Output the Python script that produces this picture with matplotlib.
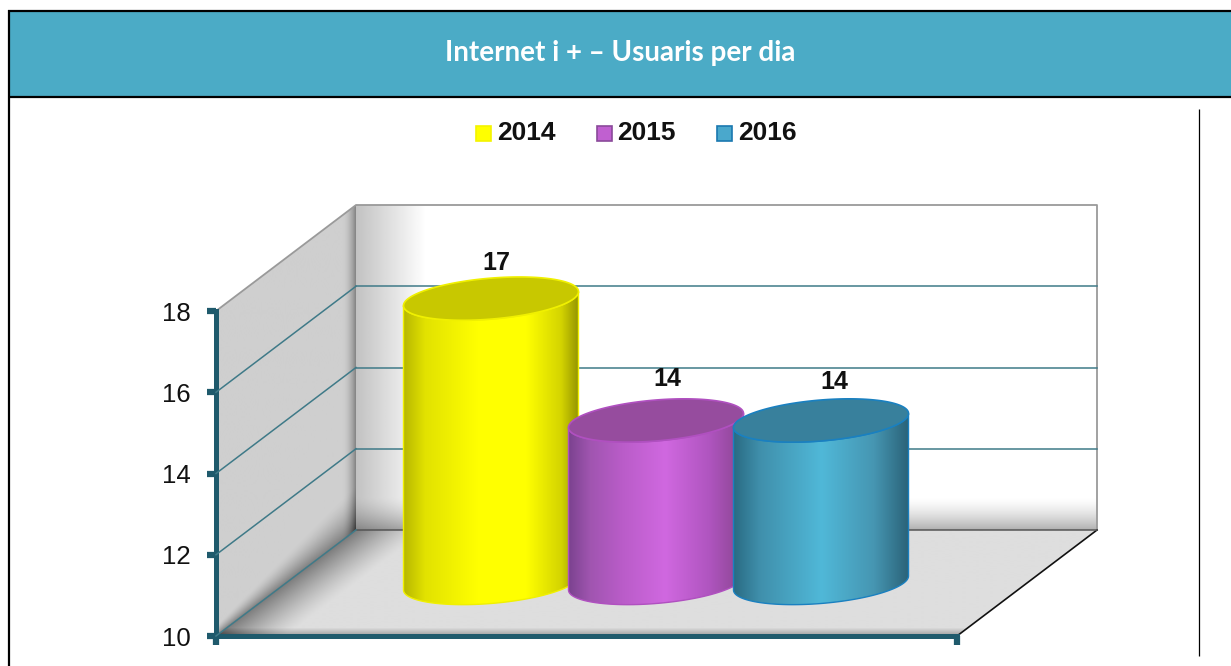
import numpy as np
import matplotlib
matplotlib.use('Agg')
import matplotlib.pyplot as plt
from matplotlib.colors import LinearSegmentedColormap
from matplotlib.patches import Polygon, Rectangle

#Data ----------------------------------------------------------------
title = 'Internet i + \u2013 Usuaris per dia'
years = ['2014', '2015', '2016']
usuaris = [17, 14, 14]
y_ticks = [10, 12, 14, 16, 18]
#----------------------------------------------------------------------

#Styles
body_stops = [
    [(0, '#b8b800'), (.12, '#e2e200'), (.42, '#ffff00'), (.7, '#ffff00'), (.9, '#d4d400'), (1, '#949400')],
    [(0, '#7c4390'), (.12, '#a055b0'), (.3, '#b95cc8'), (.55, '#d068e0'), (.8, '#b055c0'), (1, '#8a4590')],
    [(0, '#2a6c84'), (.15, '#4090ac'), (.5, '#50b8d8'), (.8, '#4696b2'), (1, '#2a6278')],
]
top_colors = ['#c8c800', '#964c9e', '#38809c']
edge_colors = ['#f0f000', '#b050c0', '#1a80c0']
swatch_colors = ['#ffff00', '#c060d0', '#4aa8cc']
swatch_edges = ['#f4f400', '#8a4a9a', '#1a78b0']
TEAL = '#1f5a6c'
GRID = '#3f7a88'

#Geometry in pixels of the picture
W, H = 1231, 666
X0, X1 = 216, 957          #front edge of the floor
Y10, Y18 = 636, 311        #front axis, value 10 and 18
DX, DY = 140, 106          #depth of the box
SCALE = (Y10 - Y18) / 8.0  #pixels per unit
DEPTH = DY / SCALE
HALF_W, TILT, SQUASH = 87.5, 7.0, 20.5
FIRST_X, STEP_X = 491, 165

fig = plt.figure(figsize=(W / 100, H / 100), dpi=100)

#Frame axes in pixels
ax = fig.add_axes([0, 0, 1, 1])
ax.set_xlim(0, W)
ax.set_ylim(H, 0)
ax.axis('off')


def shaded(array, x0, x1, y0, y1, corners):
    im = ax.imshow(array, extent=(x0, x1, y1, y0), cmap='gray', vmin=0, vmax=1,
                   aspect='auto', interpolation='bilinear', zorder=1)
    im.set_clip_path(Polygon(corners, closed=True, transform=ax.transData))


#Header
ax.add_patch(Rectangle((9, 11), W - 9, 86, fc='#4babc6', ec='none', zorder=1))
ax.plot([8, W], [10.5, 10.5], color='black', lw=1.6, zorder=3, solid_capstyle='butt')
ax.plot([8, W], [97, 97], color='black', lw=1.6, zorder=3, solid_capstyle='butt')
ax.plot([8.5, 8.5], [10, H], color='black', lw=1.6, zorder=3, solid_capstyle='butt')
ax.plot([1199, 1199], [109, 656], color='black', lw=0.9, zorder=3, solid_capstyle='butt')
ax.text(620.5, 53.5, title, color='white', fontsize=20, fontweight='bold',
        family='Lato', ha='center', va='center')

#Back wall
bx, by = np.meshgrid(np.arange(X0 + DX, X1 + DX + 1), np.arange(Y18 - DY, Y10 - DY + 1))
back = 0.76 + 0.24 * np.clip((bx - (X0 + DX)) / 70.0, 0, 1)
back = back * (1 - 0.32 * np.clip((by - 497) / 34.0, 0, 1) ** 1.5)
shaded(back, X0 + DX, X1 + DX, Y18 - DY, Y10 - DY,
       [(X0 + DX, Y18 - DY), (X1 + DX, Y18 - DY), (X1 + DX, Y10 - DY), (X0 + DX, Y10 - DY)])

#Left wall
lx, ly = np.meshgrid(np.arange(X0, X0 + DX + 1), np.arange(Y18 - DY, Y10 + 1))
edge_y = Y10 - (lx - X0) * DY / DX
fade = 10 + (lx - X0) * 0.25
left = 0.81 - 0.28 * np.clip((lx - (X0 + DX - 14)) / 14.0, 0, 1) ** 2
left = left - 0.30 * np.clip(1 - (edge_y - ly) / fade, 0, 1) ** 1.5
shaded(left, X0, X0 + DX, Y18 - DY, Y10,
       [(X0, Y18), (X0 + DX, Y18 - DY), (X0 + DX, Y10 - DY), (X0, Y10)])

#Floor
fx, fy = np.meshgrid(np.arange(X0, X1 + DX + 1), np.arange(Y10 - DY, Y10 + 1))
edge_x = X0 + (Y10 - fy) * DX / DY
floor = 0.87 - 0.38 * np.clip(1 - (fx - edge_x) / 70.0, 0, 1) ** 1.3
floor = floor - 0.25 * np.clip((fy - 628) / 8.0, 0, 1)
shaded(floor, X0, X1 + DX, Y10 - DY, Y10,
       [(X0, Y10), (X1, Y10), (X1 + DX, Y10 - DY), (X0 + DX, Y10 - DY)])

#Box edges
ax.plot([X0, X0 + DX, X1 + DX, X1 + DX], [Y18, Y18 - DY, Y18 - DY, Y10 - DY], color='#9a9a9a', lw=1.3, zorder=2)
ax.plot([X1, X1 + DX], [Y10, Y10 - DY], color='#111111', lw=1.2, zorder=2)

#Value axes on top of the frame
chart = fig.add_axes([0, 0, 1, 1], facecolor='none')
chart.set_autoscale_on(False)
chart.set_xlim(0, W)
chart.set_ylim(10 - (H - Y10) / SCALE, 10 + Y10 / SCALE)
for side in ['top', 'right']:
    chart.spines[side].set_visible(False)
chart.spines['left'].set_position(('data', X0))
chart.spines['left'].set_bounds(10, 18)
chart.spines['bottom'].set_position(('data', 10))
chart.spines['bottom'].set_bounds(X0, X1)
for side in ['left', 'bottom']:
    chart.spines[side].set_color(TEAL)
    chart.spines[side].set_linewidth(3.6)
chart.set_yticks(y_ticks)
chart.set_xticks([X0, X1])
chart.set_xticklabels([])
chart.tick_params(axis='y', length=6.5, width=4.5, color=TEAL, pad=12,
                  labelsize=18.5, labelfontfamily='Liberation Sans', labelcolor='#111111')
chart.tick_params(axis='x', length=6.5, width=4.5, color=TEAL)

#Gridlines on the walls
for v in y_ticks[:-1]:
    chart.plot([X0 + DX, X1 + DX], [v + DEPTH, v + DEPTH], color=GRID if v > 10 else '#555555', lw=1.1, zorder=3)
for v in y_ticks[1:-1] + [10]:
    chart.plot([X0, X0 + DX], [v, v + DEPTH], color=GRID, lw=1.1, zorder=3)

#Cylinders
t = np.linspace(0, np.pi, 80)
label_dx = [5, 11, 13]
label_dy = [36, 42, 39]
for i, (year, value) in enumerate(zip(years, usuaris)):
    cx = FIRST_X + i * STEP_X
    base = 10 + DEPTH / 2
    top = value + DEPTH / 2
    arc_x = HALF_W * np.cos(t)
    arc_v = (TILT * np.cos(t) - SQUASH * np.sin(t)) / SCALE  #lower half of the ellipse

    bottom_x, bottom_v = cx + arc_x, base + arc_v
    top_x, top_v = cx + arc_x[::-1], top + arc_v[::-1]
    outline = np.column_stack([np.r_[bottom_x, top_x], np.r_[bottom_v, top_v]])

    z = 4 + i * 2
    cmap = LinearSegmentedColormap.from_list('body%d' % i, body_stops[i])
    im = chart.imshow(np.linspace(0, 1, 256)[None, :], cmap=cmap, aspect='auto',
                      extent=(cx - HALF_W, cx + HALF_W, base - 1, top + 1), zorder=z)
    im.set_clip_path(Polygon(outline, closed=True, transform=chart.transData))
    chart.add_patch(Polygon(outline, closed=True, fc='none', ec=edge_colors[i], lw=1.0, zorder=z))

    t2 = np.linspace(0, 2 * np.pi, 160)
    cap = np.column_stack([cx + HALF_W * np.cos(t2),
                           top + (TILT * np.cos(t2) - SQUASH * np.sin(t2)) / SCALE])
    chart.add_patch(Polygon(cap, closed=True, fc=top_colors[i], ec=edge_colors[i], lw=1.2, zorder=z + 1))

    chart.text(cx + label_dx[i], top + label_dy[i] / SCALE, str(value), fontsize=18, fontweight='bold',
               family='Liberation Sans', color='#111111', ha='center', va='center', zorder=12)

#Legend
for i, year in enumerate(years):
    lx0 = 476 + i * 120.5
    ax.add_patch(Rectangle((lx0, 126), 15, 15, fc=swatch_colors[i], ec=swatch_edges[i], lw=1.2, zorder=3))
    ax.text(lx0 + 21, 133.5, year, fontsize=19, fontweight='bold', family='Liberation Sans',
            color='#111111', ha='left', va='center')

plt.savefig('out.png', dpi=100)
